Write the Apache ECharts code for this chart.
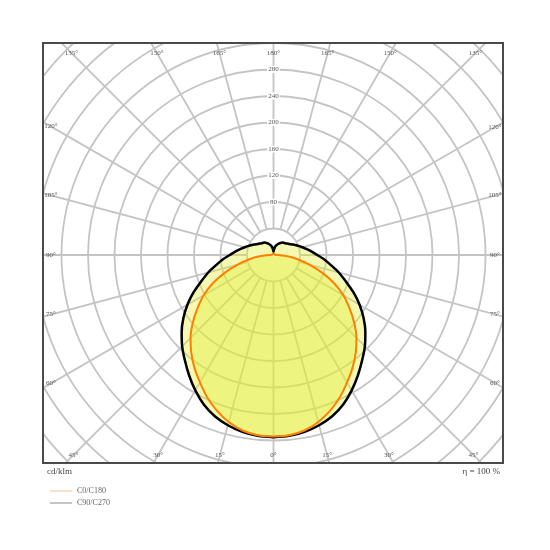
<!DOCTYPE html>
<html>
<head>
<meta charset="utf-8" />
<style>
  html, body { margin: 0; padding: 0; background: #fff; }
  #main { width: 550px; height: 550px; }
</style>
</head>
<body>
<div id="main"></div>
<script src="https://cdn.jsdelivr.net/npm/echarts@6/dist/echarts.min.js"></script>
<script>
// gamma angle from nadir (deg) and luminous intensity (cd/klm)
var gammas = [0, 5, 10, 15, 20, 25, 30, 35, 40, 45, 50, 55, 60, 65, 70, 75, 80, 85, 90,
  95, 100, 105, 110, 115, 120, 125, 130, 135, 140, 145, 150, 155, 160, 165, 170, 175, 180];
var c0c180 = [274, 273, 269, 261, 250, 237, 222, 208, 193, 177, 159, 140, 122, 101, 78, 56, 37, 21, 7,
  3, 2, 2, 2, 2, 2, 2, 2, 2, 2, 2, 2, 2, 2, 2, 2, 2, 2];
var c90c270 = [275, 274, 271, 266, 259, 249, 236, 222, 208, 195, 181, 166, 150, 133, 116, 102, 88, 77, 66,
  58, 51, 45, 40, 36, 32, 29, 27, 25, 24, 23, 21, 19, 17, 15, 12, 8, 5];
var ringLabels = [80, 120, 160, 200, 240, 280];
var angleLabels = [0, 15, 30, 45, 60, 75, 90, 105, 120, 135, 150, 165, 180];

var CX = 273.5, CY = 255, K = 0.6625;   // centre and px per cd/klm
var FRAME = { l: 43, t: 43, r: 503, b: 463 };
var FONT = 'Liberation Serif';

// closed outline: right half gamma 0->180, then left half 180->0
function outline(vals) {
  var pts = [];
  for (var i = 0; i < gammas.length; i++) pts.push([vals[i], 180 - gammas[i]]);
  for (var j = gammas.length - 1; j >= 0; j--) pts.push([vals[j], 180 + gammas[j]]);
  return pts;
}

// angle labels sit where each ray meets a rectangle just inside the frame
function angleLabel(g, side) {
  var L = FRAME.l + 8, R = FRAME.r - 8, T = FRAME.t + 10, B = FRAME.b - 8;
  var a = g * Math.PI / 180;
  var dx = side * Math.sin(a), dy = Math.cos(a);
  var ts = [];
  if (dx > 1e-9) ts.push((R - CX) / dx);
  if (dx < -1e-9) ts.push((L - CX) / dx);
  if (dy > 1e-9) ts.push((B - CY) / dy);
  if (dy < -1e-9) ts.push((T - CY) / dy);
  var t = Math.min.apply(null, ts);
  return {
    type: 'text', z: 120,
    x: CX + dx * t, y: CY + dy * t,
    style: { text: g + '°', font: '7px "' + FONT + '"', fill: '#555', align: 'center', verticalAlign: 'middle' }
  };
}

var graphics = [
  { type: 'rect', z: 100, shape: { x: 0, y: 0, width: 550, height: FRAME.t }, style: { fill: '#fff' } },
  { type: 'rect', z: 100, shape: { x: 0, y: FRAME.b, width: 550, height: 550 - FRAME.b }, style: { fill: '#fff' } },
  { type: 'rect', z: 100, shape: { x: 0, y: 0, width: FRAME.l, height: 550 }, style: { fill: '#fff' } },
  { type: 'rect', z: 100, shape: { x: FRAME.r, y: 0, width: 550 - FRAME.r, height: 550 }, style: { fill: '#fff' } },
  { type: 'rect', z: 110, shape: { x: FRAME.l, y: FRAME.t, width: FRAME.r - FRAME.l, height: FRAME.b - FRAME.t },
    style: { fill: null, stroke: '#4a4a4a', lineWidth: 2 } },
  { type: 'text', z: 120, x: 47, y: 472, style: { text: 'cd/klm', font: '9px "' + FONT + '"', fill: '#444', verticalAlign: 'middle' } },
  { type: 'text', z: 120, x: 500, y: 472, style: { text: 'η = 100 %', font: '9px "' + FONT + '"', fill: '#444', align: 'right', verticalAlign: 'middle' } }
];
angleLabels.forEach(function (g) {
  graphics.push(angleLabel(g, 1));
  if (g !== 0 && g !== 180) graphics.push(angleLabel(g, -1));
});

var chart = echarts.init(document.getElementById('main'));
var gridLine = { color: '#c4c4c4', width: 1.8 };
var option = {
  animation: false,
  polar: [
    { center: [CX, CY], radius: [40 * K, 480 * K] },
    { center: [CX, CY], radius: [0, 480 * K] }
  ],
  angleAxis: [
    { polarIndex: 0, type: 'value', min: 0, max: 360, interval: 15, startAngle: 90, clockwise: true,
      axisLine: { show: false }, axisTick: { show: false }, axisLabel: { show: false },
      splitLine: { show: true, lineStyle: gridLine } },
    { polarIndex: 1, type: 'value', min: 0, max: 360, startAngle: 90, clockwise: true, show: false }
  ],
  radiusAxis: [
    { polarIndex: 0, type: 'value', min: 40, max: 480, interval: 40,
      axisLine: { show: false }, axisTick: { show: false },
      splitLine: { show: true, lineStyle: gridLine },
      axisLabel: {
        margin: 0, align: 'center', verticalAlign: 'middle',
        fontFamily: FONT, fontSize: 7, color: '#555', backgroundColor: '#fff', padding: [0, 1],
        formatter: function (v) { return ringLabels.indexOf(v) >= 0 ? String(v) : ''; }
      } },
    { polarIndex: 1, type: 'value', min: 0, max: 480, show: false }
  ],
  legend: {
    z: 200, orient: 'vertical', left: 45, top: 482, itemWidth: 22, itemHeight: 1, itemGap: 4,
    textStyle: { fontFamily: FONT, fontSize: 8, color: '#666' },
    data: [
      { name: 'C0/C180', icon: 'rect', itemStyle: { color: '#f3c58f' } },
      { name: 'C90/C270', icon: 'rect', itemStyle: { color: '#8a8a8a' } }
    ]
  },
  graphic: { elements: graphics },
  series: [
    { name: 'C90/C270', type: 'line', coordinateSystem: 'polar', polarIndex: 1, z: 2,
      data: outline(c90c270), symbol: 'none', smooth: 0.3,
      lineStyle: { color: '#000', width: 2.5 },
      areaStyle: { color: 'rgba(226,238,50,0.55)' } },
    { name: 'C0/C180', type: 'line', coordinateSystem: 'polar', polarIndex: 1, z: 3,
      data: outline(c0c180), symbol: 'none', smooth: 0.3,
      lineStyle: { color: '#ff7f00', width: 2 },
      areaStyle: { color: 'rgba(226,238,50,0.55)' } }
  ]
};
chart.setOption(option);
</script>
</body>
</html>
